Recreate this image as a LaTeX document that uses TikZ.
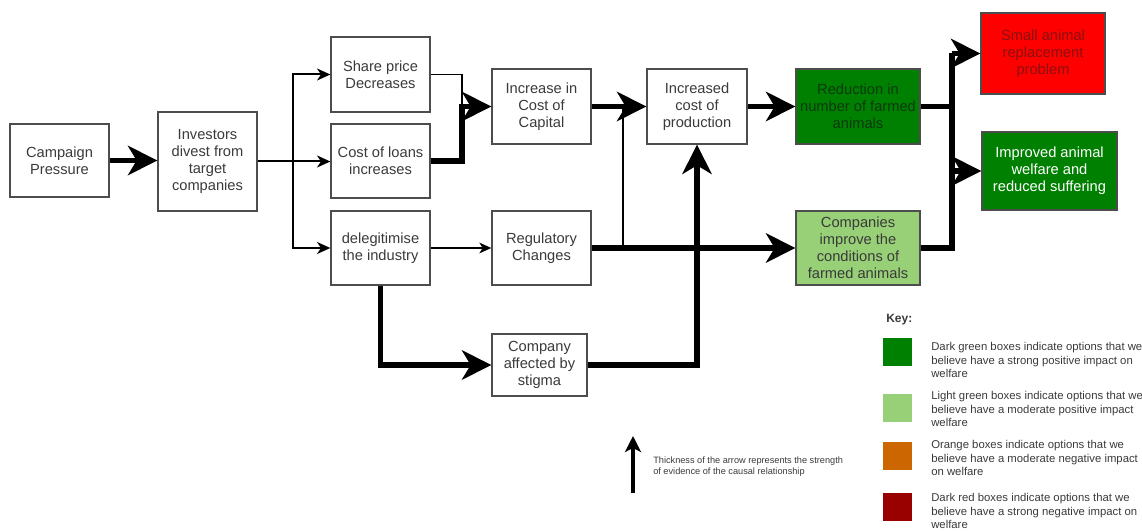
\documentclass[tikz,border=0pt]{standalone}
\usepackage{fontspec}
\setmainfont{Liberation Sans}
\usetikzlibrary{arrows.meta}
\definecolor{txt}{HTML}{3A3A3A}
\definecolor{bord}{HTML}{4D4D4D}
\definecolor{dkgreen}{HTML}{008000}
\definecolor{ltgreen}{HTML}{97D077}
\definecolor{redbox}{HTML}{FF0000}
\definecolor{orangebox}{HTML}{CC6600}
\definecolor{dkred}{HTML}{990000}
\definecolor{dktext}{HTML}{0E3A0E}
\definecolor{redtext}{HTML}{8B1010}
\begin{document}
\begin{tikzpicture}[x=0.75pt,y=-0.75pt,
  box/.style={draw=bord, line width=1pt, inner sep=0pt, align=center,
    font=\fontsize{11}{12.8}\selectfont, text=txt},
  wh/.style 2 args={minimum width=#1*0.75pt, minimum height=#2*0.75pt},
  bigline/.style={line width=3.9pt},
  big/.style={line width=3.9pt, -{Stealth[length=22pt,width=22pt,inset=6.5pt]}},
  midline/.style={line width=1.5pt},
  mid/.style={line width=1.5pt, -{Stealth[length=10pt,width=9pt,inset=3pt]}},
  thinline/.style={line width=1pt},
  thin/.style={line width=1pt, -{Stealth[length=9pt,width=8pt,inset=2.5pt]}},
  keysq/.style={inner sep=0pt, minimum width=21.75pt, minimum height=21pt, anchor=north west},
  keytxt/.style={inner sep=0pt, anchor=north west, align=left, text=txt,
    font=\fontsize{8.5}{10.2}\selectfont}
]
\useasboundingbox (0,0) rectangle (1142,531);

% boxes
\node[box, wh={99}{73}] (camp) at (59.5,160.5) {Campaign\\Pressure};
\node[box, wh={99}{99}] (inv) at (207.5,161.5) {Investors\\divest from\\target\\companies};
\node[box, wh={99}{75}] (share) at (380.5,74.5) {Share price\\Decreases};
\node[box, wh={99}{74}] (loans) at (380.5,161) {Cost of loans\\increases};
\node[box, wh={99}{74}] (deleg) at (380.5,248) {delegitimise\\the industry};
\node[box, wh={99}{75}] (capital) at (541.5,106.5) {Increase in\\Cost of\\Capital};
\node[box, wh={100}{75}] (prod) at (697,106.5) {Increased\\cost of\\production};
\node[box, wh={99}{74}] (reg) at (541.5,248) {Regulatory\\Changes};
\node[box, wh={95}{62}] (stigma) at (539.5,365) {Company\\affected by\\stigma};
\node[box, wh={124}{75}, fill=dkgreen, text=dktext] (reduc) at (858,106.5) {Reduction in\\number of farmed\\animals};
\node[box, wh={124}{74}, fill=ltgreen] (improve) at (858,248) {Companies\\improve the\\conditions of\\farmed animals};
\node[box, wh={124}{81}, fill=redbox, text=redtext] (small) at (1043,53.5) {Small animal\\replacement\\problem};
\node[box, wh={135}{78}, fill=dkgreen, text=white] (welfare) at (1049.5,171) {Improved animal\\welfare and\\reduced suffering};

% connectors
\draw[big] (camp.east) -- (camp.east -| inv.west);
\coordinate (split) at (293,161.5);
\draw[midline] (inv.east) -- (split);
\draw[mid] (split) |- (share.west);
\draw[mid] (split) -- (split -| loans.west);
\draw[mid] (split) |- (deleg.west);

\coordinate (cj) at (462,106.5);
\draw[thinline] (share.east) -| (cj);
\draw[big] (loans.east) -| (cj) -- (capital.west);
\draw[big] (capital.east) -- (prod.west);
\draw[thin] (deleg.east) -- (deleg.east -| reg.west);
\coordinate (rj) at (623,248);
\draw[thinline] (rj) -- (rj |- prod.west);
\draw[big] (reg.east) -- (reg.east -| improve.west);
\draw[big] (deleg.south) |- (stigma.west);
\draw[big] (stigma.east) -| (prod.south);
\draw[big] (prod.east) -- (reduc.west);

\coordinate (mtop) at (952,53.5);
\draw[bigline] (reduc.east) -- (reduc.east -| mtop);
\draw[bigline] (improve.east) -| (mtop);
\draw[big] (mtop) -- (small.west);
\draw[big] (mtop |- welfare.west) -- (welfare.west);

% legend arrow
\coordinate (la) at (633,493);
\draw[line width=2.5pt, -{Stealth[length=12pt,width=12pt,inset=3pt]}] (la) -- ++(0,-57);
\node[inner sep=0pt, anchor=north west, align=left, text=txt,
  font=\fontsize{6.9}{7.6}\selectfont] (lat) at (653,457)
  {Thickness of the arrow represents the strength\\of evidence of the causal relationship};

% key
\node[inner sep=0pt, anchor=west, font=\fontsize{9}{10}\bfseries\selectfont, text=txt] (key) at (886,320) {Key:};
\node[keysq, fill=dkgreen] (k1) at (883,338) {};
\node[keysq, fill=ltgreen] (k2) at (883,394) {};
\node[keysq, fill=orangebox] (k3) at (883,442) {};
\node[keysq, fill=dkred] (k4) at (883,493) {};
\node[keytxt] (t1) at (931,342) {Dark green boxes indicate options that we\\believe have a strong positive impact on\\welfare};
\node[keytxt] (t2) at (931,391) {Light green boxes indicate options that we\\believe have a moderate positive impact\\welfare};
\node[keytxt] (t3) at (931,440) {Orange boxes indicate options that we\\believe have a moderate negative impact\\on welfare};
\node[keytxt] (t4) at (931,493) {Dark red boxes indicate options that we\\believe have a strong negative impact on\\welfare};
\end{tikzpicture}
\end{document}
